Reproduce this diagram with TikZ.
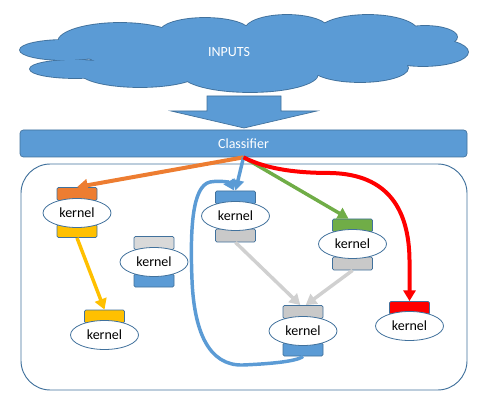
\documentclass[tikz,border=0pt]{standalone}
\usepackage{fontspec}
\setmainfont{Carlito}
\usetikzlibrary{arrows.meta,shapes.geometric}
\definecolor{cblue}{RGB}{91,155,213}
\definecolor{cline}{RGB}{65,113,156}
\definecolor{corange}{RGB}{237,125,49}
\definecolor{cyellow}{RGB}{255,192,0}
\definecolor{cgreen}{RGB}{112,173,71}
\definecolor{cred}{RGB}{255,0,0}
\definecolor{cgrey}{RGB}{201,201,201}
\definecolor{clgrey}{RGB}{217,217,217}
\definecolor{carrgrey}{RGB}{208,208,208}
\begin{document}
\begin{tikzpicture}[x=0.75pt,y=-0.75pt,
  box/.style={rectangle, rounded corners=1pt, draw=cline, line width=0.6pt, minimum width=30pt, minimum height=9.75pt, inner sep=0pt},
  kern/.style={ellipse, draw=cline, line width=0.6pt, fill=white, minimum width=51pt, minimum height=21.75pt, inner sep=0pt, font=\fontsize{10.5}{12}\selectfont},
  conn/.style={line width=2.6pt, -{Triangle[width=9pt,length=8pt]}},
  wtext/.style={text=white, font=\fontsize{10.5}{12}\selectfont, inner sep=0pt},
]
\useasboundingbox (0,0) rectangle (491,402);

% cloud
\def\lobes{65/50/45/10, 75/69/45/9, 120/42/62/19, 140/72/60/15, 205/32/45/14, 287/30/42/15, 368/32/50/17, 425/37/32/11, 423/52/45/14, 360/68/48/14, 250/74/68/18, 245/52/160/26}
\foreach \cx/\cy/\rx/\ry in \lobes {
  \draw[cline, line width=1.3pt] (\cx,\cy) ellipse [x radius=\rx, y radius=\ry];
}
\foreach \cx/\cy/\rx/\ry in \lobes {
  \fill[cblue] (\cx,\cy) ellipse [x radius=\rx, y radius=\ry];
}
\node[wtext] (inputs) at (229,52) {INPUTS};

% block arrow
\draw[fill=cblue, draw=cline, line width=0.5pt] (207,96) -- (281,96) -- (281,111) -- (317,111) -- (244,128) -- (171,111) -- (207,111) -- cycle;

% classifier
\node[rectangle, rounded corners=2.5pt, fill=cblue, draw=cline, line width=0.5pt, minimum width=335.25pt, minimum height=20.25pt, inner sep=0pt, text=white, font=\fontsize{10.5}{12}\selectfont] (clf) at (243.5,143.5) {Classifier};

% container
\draw[cline, line width=0.7pt, rounded corners=22pt] (21,164) rectangle (467,390);

% kernels
\node[box, fill=corange] (k1t) at (77,194) {};
\node[box, fill=cyellow] (k1b) at (77,231) {};
\node[kern] (k1) at (77,213) {kernel};

\node[box, fill=clgrey] (k2t) at (154,243) {};
\node[box, fill=cblue] (k2b) at (154,280.5) {};
\node[kern] (k2) at (154,262) {kernel};

\node[box, fill=cyellow] (k3t) at (104.5,316.5) {};
\node[kern] (k3) at (104.5,335) {kernel};

\node[box, fill=cblue] (k4t) at (235.5,197.5) {};
\node[box, fill=cgrey] (k4b) at (235.5,235.5) {};
\node[kern] (k4) at (235.5,216) {kernel};

\node[box, fill=cgreen] (k5t) at (352.5,225.5) {};
\node[box, fill=cgrey] (k5b) at (352.5,263.5) {};
\node[kern] (k5) at (352.5,244) {kernel};

\node[box, fill=cgrey] (k6t) at (303,312) {};
\node[box, fill=cblue] (k6b) at (303,349.5) {};
\node[kern] (k6) at (303,331) {kernel};

\node[box, fill=cred] (k7t) at (409.5,308) {};
\node[kern] (k7) at (409.5,326) {kernel};

% connectors
\draw[conn, corange, line width=3pt] (clf.south) -- (k1t.north);
\draw[conn, cblue] (clf.south) -- (k4t.north);
\draw[conn, cgreen] (clf.south) -- ([xshift=-3pt]k5t.north);
\draw[conn, cred, line width=3pt] (clf.south) .. controls (268,170) and (300,173) .. (330,173) .. controls (390,174) and (409,212) .. (409.5,260) -- (k7t.north);
\draw[conn, cyellow] (k1b.south) -- (k3t.north);
\draw[conn, carrgrey] (k4b.south) -- ([xshift=-2pt]k6t.north);
\draw[conn, carrgrey] (k5b.south) -- ([xshift=2pt]k6t.north);
\draw[conn, cblue] (k6b.south) .. controls (296,362) and (265,364) .. (243,365) .. controls (208,366) and (194,330) .. (192,280) .. controls (190,230) and (192,186) .. (210,182) .. controls (222,180) and (230,183) .. ([xshift=-1pt]k4t.north);
\end{tikzpicture}
\end{document}
